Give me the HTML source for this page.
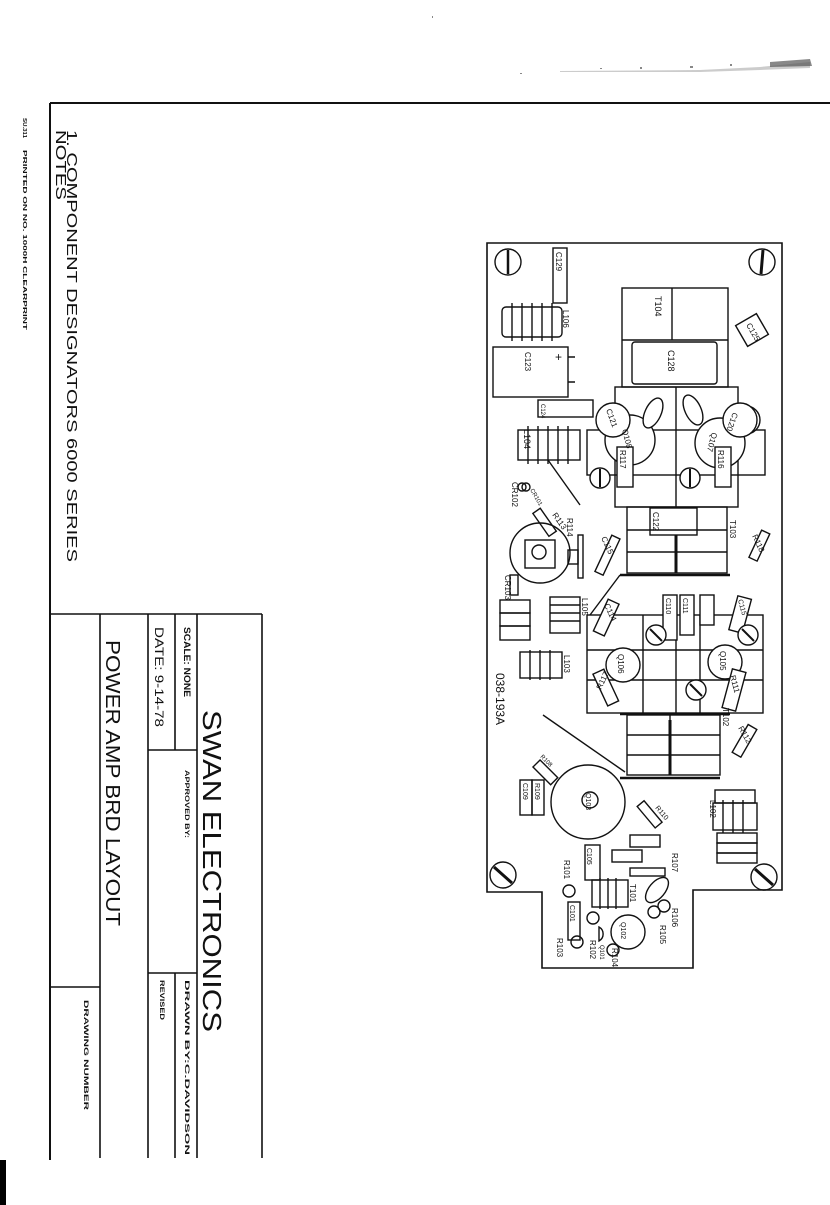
<!DOCTYPE html>
<html><head><meta charset="utf-8"><style>
html,body{margin:0;padding:0;background:#fff;}
svg{display:block;}
text{font-family:"Liberation Sans",sans-serif;fill:#111;}
</style></head><body>
<svg width="830" height="1205" viewBox="0 0 830 1205" xmlns="http://www.w3.org/2000/svg">
<rect x="0" y="0" width="830" height="1205" fill="#fff"/>
<!-- top smudge -->
<path d="M560 71 L700 70 L760 67 L810 62 L810 68 L760 70 L700 72 L560 72 Z" fill="#999" opacity="0.5"/>
<path d="M770 62 L810 59 L812 66 L770 67 Z" fill="#555" opacity="0.7"/>
<g fill="#888"><rect x="600" y="68" width="2" height="1"/><rect x="640" y="67" width="2" height="2"/><rect x="690" y="66" width="3" height="2"/><rect x="730" y="64" width="2" height="2"/><rect x="520" y="73" width="2" height="1"/><rect x="432" y="16" width="1" height="2"/></g>
<!-- sheet borders -->
<line x1="50" y1="103" x2="830" y2="103" stroke="#111" stroke-width="2"/>
<line x1="50" y1="103" x2="50" y2="1160" stroke="#111" stroke-width="2"/>
<rect x="0" y="1160" width="6" height="45" fill="#000"/>
<!-- margin tiny text -->
<text transform="translate(23,118) rotate(90)" font-size="5" font-weight="bold" textLength="20" lengthAdjust="spacingAndGlyphs">SU.311</text>
<text transform="translate(23,150) rotate(90)" font-size="5" font-weight="bold" textLength="180" lengthAdjust="spacingAndGlyphs">PRINTED ON NO. 1000H CLEARPRINT</text>
<!-- notes -->
<text transform="translate(56,130) rotate(90)" font-size="15" textLength="70" lengthAdjust="spacingAndGlyphs">NOTES</text>
<text transform="translate(67,130) rotate(90)" font-size="15" textLength="432" lengthAdjust="spacingAndGlyphs">1. COMPONENT DESIGNATORS  6000  SERIES</text>
<!-- title block -->
<g stroke="#111" stroke-width="1.6" fill="none">
<line x1="50" y1="614" x2="262" y2="614"/>
<line x1="262" y1="614" x2="262" y2="1158"/>
<line x1="100" y1="614" x2="100" y2="1158"/>
<line x1="148" y1="614" x2="148" y2="1158"/>
<line x1="197" y1="614" x2="197" y2="1158"/>
<line x1="175" y1="614" x2="175" y2="750"/>
<line x1="175" y1="973" x2="175" y2="1158"/>
<line x1="148" y1="750" x2="197" y2="750"/>
<line x1="148" y1="973" x2="197" y2="973"/>
<line x1="50" y1="987" x2="100" y2="987"/>
</g>
<text transform="translate(203,710) rotate(90)" font-size="26" textLength="322" lengthAdjust="spacingAndGlyphs">SWAN  ELECTRONICS</text>
<text transform="translate(106,640) rotate(90)" font-size="20" textLength="286" lengthAdjust="spacingAndGlyphs">POWER AMP BRD LAYOUT</text>
<text transform="translate(184,627) rotate(90)" font-size="9" font-weight="bold" textLength="70" lengthAdjust="spacingAndGlyphs">SCALE: NONE</text>
<text transform="translate(155,627) rotate(90)" font-size="12" textLength="100" lengthAdjust="spacingAndGlyphs">DATE: 9-14-78</text>
<text transform="translate(185,770) rotate(90)" font-size="6" font-weight="bold" textLength="68" lengthAdjust="spacingAndGlyphs">APPROVED BY:</text>
<text transform="translate(185,980) rotate(90)" font-size="6" font-weight="bold" textLength="175" lengthAdjust="spacingAndGlyphs">DRAWN BY:C.DAVIDSON</text>
<text transform="translate(160,980) rotate(90)" font-size="6" font-weight="bold" textLength="40" lengthAdjust="spacingAndGlyphs">REVISED</text>
<text transform="translate(84,1000) rotate(90)" font-size="6" font-weight="bold" textLength="110" lengthAdjust="spacingAndGlyphs">DRAWING NUMBER</text>

<!-- board outline -->
<path d="M487 243 L782 243 L782 890 L693 890 L693 968 L542 968 L542 892 L487 892 Z" fill="none" stroke="#111" stroke-width="1.6"/>
<g stroke="#111" stroke-width="1.4" fill="none">
<circle cx="508" cy="262" r="13"/><line x1="508" y1="250" x2="508" y2="274" stroke-width="2.5"/>
<circle cx="762" cy="262" r="13"/><line x1="763" y1="250" x2="761" y2="274" stroke-width="3"/>
<circle cx="503" cy="875" r="13"/><line x1="494" y1="867" x2="512" y2="883" stroke-width="3"/>
<circle cx="764" cy="877" r="13"/><line x1="755" y1="869" x2="773" y2="885" stroke-width="3"/>
<rect x="553" y="248" width="14" height="55"/>
<rect x="502" y="307" width="60" height="30" rx="4"/>
<path d="M512 303 V341 M522 303 V341 M532 303 V341 M542 303 V341 M552 303 V341"/>
<rect x="493" y="347" width="75" height="50"/>
<path d="M568 357 H575 M568 382 H575"/>
<rect x="622" y="288" width="106" height="99"/>
<line x1="672" y1="288" x2="672" y2="340"/>
<line x1="622" y1="340" x2="728" y2="340"/>
<rect x="632" y="342" width="85" height="42" rx="3"/>
<rect x="740" y="318" width="24" height="24" transform="rotate(-30 752 330)"/>
<rect x="615" y="387" width="123" height="120"/>
<rect x="587" y="430" width="178" height="45"/>
<line x1="676" y1="387" x2="676" y2="507"/>
<circle cx="630" cy="440" r="25" fill="#fff"/>
<circle cx="720" cy="443" r="25" fill="#fff"/>
<circle cx="613" cy="420" r="17" fill="#fff"/>
<circle cx="746" cy="420" r="14" fill="#fff"/>
<circle cx="740" cy="420" r="17" fill="#fff"/>
<ellipse cx="653" cy="413" rx="8" ry="16" transform="rotate(25 653 413)" fill="#fff"/>
<ellipse cx="693" cy="410" rx="8" ry="16" transform="rotate(-25 693 410)" fill="#fff"/>
<rect x="617" y="447" width="16" height="40" fill="#fff"/>
<rect x="715" y="447" width="16" height="40" fill="#fff"/>
<circle cx="600" cy="478" r="10" fill="#fff"/><line x1="600" y1="469" x2="600" y2="487" stroke-width="2"/>
<circle cx="690" cy="478" r="10" fill="#fff"/><line x1="690" y1="469" x2="690" y2="487" stroke-width="2"/>
<rect x="538" y="400" width="55" height="17"/>
<rect x="518" y="430" width="62" height="30"/>
<path d="M528 426 V464 M538 426 V464 M548 426 V464 M558 426 V464 M568 426 V464"/>
<line x1="548" y1="460" x2="580" y2="505"/>
<circle cx="522" cy="487" r="4"/><circle cx="526" cy="487" r="4"/>
<rect x="627" y="507" width="100" height="66"/>
<path d="M627 530 H727 M627 552 H727 M676 535 V573"/>
<line x1="676" y1="535" x2="676" y2="573" stroke-width="3"/>
<rect x="650" y="508" width="47" height="27"/>
<line x1="620" y1="575" x2="730" y2="575" stroke-width="2.5"/>
<line x1="620" y1="575" x2="590" y2="615"/>
<circle cx="540" cy="553" r="30"/>
<rect x="525" y="540" width="30" height="28"/>
<circle cx="539" cy="552" r="7"/>
<rect x="578" y="535" width="5" height="43"/>
<rect x="568" y="550" width="10" height="14"/>
<rect x="603" y="535" width="9" height="40" transform="rotate(25 607 555)"/>
<rect x="540" y="508" width="9" height="28" transform="rotate(-35 545 522)"/>
<rect x="755" y="530" width="9" height="30" transform="rotate(25 758 545)"/>
<rect x="510" y="575" width="8" height="20"/>
<rect x="500" y="600" width="30" height="13"/><rect x="500" y="613" width="30" height="13"/><rect x="500" y="626" width="30" height="14"/>
<rect x="550" y="597" width="30" height="36"/>
<path d="M550 605 H580 M550 613 H580 M550 621 H580"/>
<rect x="520" y="652" width="42" height="26"/>
<path d="M530 650 V680 M540 650 V680 M550 650 V680"/>
<line x1="543" y1="715" x2="625" y2="772"/>
<rect x="587" y="615" width="176" height="98"/>
<path d="M643 615 V713 M676 615 V713 M700 615 V713 M587 650 H763 M587 680 H763"/>
<circle cx="623" cy="665" r="17" fill="#fff"/>
<circle cx="725" cy="662" r="17" fill="#fff"/>
<rect x="663" y="595" width="14" height="45" fill="#fff"/>
<rect x="680" y="595" width="14" height="40" fill="#fff"/>
<rect x="700" y="595" width="14" height="30" fill="#fff"/>
<rect x="733" y="597" width="14" height="35" transform="rotate(15 740 615)" fill="#fff"/>
<rect x="600" y="600" width="12" height="35" transform="rotate(25 606 618)" fill="#fff"/>
<rect x="600" y="670" width="12" height="35" transform="rotate(-25 606 688)" fill="#fff"/>
<rect x="727" y="670" width="14" height="40" transform="rotate(15 734 690)" fill="#fff"/>
<circle cx="656" cy="635" r="10" fill="#fff"/><line x1="650" y1="629" x2="662" y2="641" stroke-width="2"/>
<circle cx="696" cy="690" r="10" fill="#fff"/><line x1="690" y1="684" x2="702" y2="696" stroke-width="2"/>
<circle cx="748" cy="635" r="10" fill="#fff"/><line x1="742" y1="629" x2="754" y2="641" stroke-width="2"/>
<rect x="627" y="715" width="93" height="60"/>
<path d="M627 735 H720 M627 755 H720 M670 715 V775"/>
<line x1="670" y1="720" x2="670" y2="775" stroke-width="3"/>
<line x1="620" y1="714" x2="730" y2="714" stroke-width="2.5"/>
<line x1="620" y1="778" x2="720" y2="778" stroke-width="2.5"/>
<rect x="740" y="725" width="10" height="32" transform="rotate(30 745 740)"/>
<circle cx="588" cy="802" r="37"/>
<circle cx="590" cy="800" r="8"/>
<rect x="540" y="760" width="10" height="25" transform="rotate(-45 545 772)"/>
<rect x="520" y="780" width="12" height="35"/><rect x="532" y="780" width="12" height="35"/>
<rect x="585" y="845" width="15" height="35"/>
<rect x="715" y="790" width="40" height="13"/>
<rect x="713" y="803" width="44" height="27"/>
<path d="M723 800 V833 M733 800 V833 M743 800 V833"/>
<rect x="717" y="833" width="40" height="10"/><rect x="717" y="843" width="40" height="10"/><rect x="717" y="853" width="40" height="10"/>
<rect x="645" y="800" width="9" height="28" transform="rotate(-40 650 814)"/>
<rect x="630" y="835" width="30" height="12"/>
<rect x="612" y="850" width="30" height="12"/>
<rect x="630" y="868" width="35" height="8"/>
<rect x="592" y="880" width="36" height="27"/>
<path d="M600 878 V909 M608 878 V909 M616 878 V909"/>
<circle cx="628" cy="932" r="17"/>
<ellipse cx="657" cy="890" rx="8" ry="15" transform="rotate(40 657 890)"/>
<circle cx="664" cy="906" r="6"/><circle cx="654" cy="912" r="6"/>
<circle cx="569" cy="891" r="6"/><circle cx="593" cy="918" r="6"/><circle cx="577" cy="942" r="6"/><circle cx="613" cy="950" r="6"/>
<rect x="568" y="902" width="12" height="38"/>
<path d="M599 927 a8 8 0 0 1 0 14 Z"/>
</g>
<g font-size="8">
<text transform="translate(556,252) rotate(90)">C129</text>
<text transform="translate(563,310) rotate(90)">L106</text>
<text transform="translate(525,352) rotate(90)">C123</text>
<text x="555" y="361" font-size="12">+</text>
<text transform="translate(655,296) rotate(90)" font-size="9">T104</text>
<text transform="translate(668,350) rotate(90)" font-size="9">C128</text>
<text transform="translate(746,325) rotate(60)">C125</text>
<text transform="translate(541,404) rotate(90)" font-size="6">C124</text>
<text transform="translate(524,429) rotate(90)" font-size="9">L104</text>
<text transform="translate(606,410) rotate(70)">C121</text>
<text transform="translate(733,412) rotate(110)">C120</text>
<text transform="translate(622,430) rotate(75)">Q108</text>
<text transform="translate(712,432) rotate(105)">Q107</text>
<text transform="translate(620,450) rotate(90)">R117</text>
<text transform="translate(718,450) rotate(90)">R116</text>
<text transform="translate(512,482) rotate(90)">CR102</text>
<text transform="translate(530,490) rotate(60)" font-size="6">CR101</text>
<text transform="translate(552,515) rotate(55)">R113</text>
<text transform="translate(567,518) rotate(90)">R114</text>
<text transform="translate(653,512) rotate(90)">C122</text>
<text transform="translate(730,520) rotate(90)">T103</text>
<text transform="translate(752,536) rotate(65)">R118</text>
<text transform="translate(601,538) rotate(65)">C115</text>
<text transform="translate(505,575) rotate(90)">CR103</text>
<text transform="translate(582,598) rotate(90)">L105</text>
<text transform="translate(564,655) rotate(90)">L103</text>
<text transform="translate(496,673) rotate(90)" font-size="12">038-193A</text>
<text transform="translate(618,654) rotate(90)">Q106</text>
<text transform="translate(720,651) rotate(90)">Q105</text>
<text transform="translate(723,708) rotate(90)">T102</text>
<text transform="translate(738,728) rotate(60)">R112</text>
<text transform="translate(730,676) rotate(75)">R111</text>
<text transform="translate(604,605) rotate(65)">C114</text>
<text transform="translate(601,690) rotate(-65)">R117</text>
<text transform="translate(666,598) rotate(90)" font-size="7">C110</text>
<text transform="translate(683,598) rotate(90)" font-size="7">C111</text>
<text transform="translate(738,600) rotate(75)" font-size="7">C115</text>
<text transform="translate(586,793) rotate(90)" font-size="7">Q103</text>
<text transform="translate(540,757) rotate(45)" font-size="6">R108</text>
<text transform="translate(523,783) rotate(90)" font-size="7">C109</text>
<text transform="translate(535,783) rotate(90)" font-size="7">R109</text>
<text transform="translate(587,848) rotate(90)" font-size="7">C105</text>
<text transform="translate(655,808) rotate(50)" font-size="7">R110</text>
<text transform="translate(710,800) rotate(90)">L102</text>
<text transform="translate(672,853) rotate(90)">R107</text>
<text transform="translate(564,860) rotate(90)">R101</text>
<text transform="translate(630,884) rotate(90)">T101</text>
<text transform="translate(621,922) rotate(90)" font-size="7">Q102</text>
<text transform="translate(570,905) rotate(90)" font-size="7">C101</text>
<text transform="translate(672,908) rotate(90)">R106</text>
<text transform="translate(660,925) rotate(90)">R105</text>
<text transform="translate(612,948) rotate(90)">R104</text>
<text transform="translate(590,940) rotate(90)">R102</text>
<text transform="translate(600,945) rotate(90)" font-size="6">Q101</text>
<text transform="translate(557,938) rotate(90)">R103</text>
</g>
</svg>
</body></html>
